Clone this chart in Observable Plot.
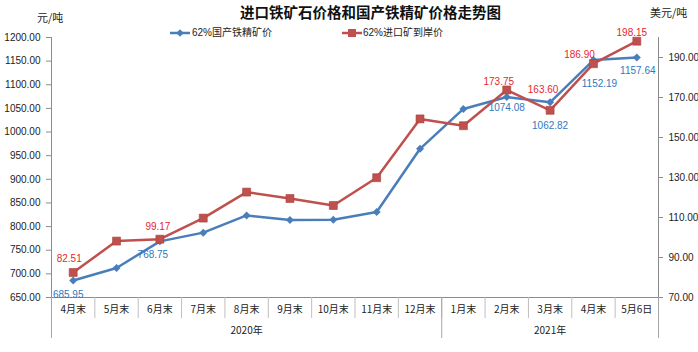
<!DOCTYPE html>
<html><head><meta charset="utf-8">
<script src="https://cdn.jsdelivr.net/npm/d3@7"></script>
<script src="https://cdn.jsdelivr.net/npm/@observablehq/plot@0.6"></script>
<style>
body{margin:0;background:#fff;}
#wrap{position:relative;width:698px;height:352px;font-family:"Liberation Sans","Noto Sans CJK SC",sans-serif;color:#222;}
#chart{position:absolute;left:0;top:0;}
.abs{position:absolute;white-space:nowrap;line-height:1;}
#title{left:240px;top:5px;font-size:14.5px;font-weight:bold;font-family:"Noto Sans CJK SC",sans-serif;color:#111;}
.unit{font-size:11px;font-family:"Noto Sans CJK SC",sans-serif;color:#222;}
.leg{font-size:10px;font-family:"Liberation Sans","Noto Sans CJK SC",sans-serif;color:#222;}
</style></head><body>
<div id="wrap">
  <div id="chart"></div>
  <div class="abs" id="title">进口铁矿石价格和国产铁精矿价格走势图</div>
  <div class="abs unit" id="unitL" style="left:37px;top:12px;">元/吨</div>
  <div class="abs unit" id="unitR" style="left:650px;top:7px;">美元/吨</div>
  <svg class="abs" style="left:168px;top:27px;" width="24" height="12">
    <line x1="2" y1="6" x2="22" y2="6" stroke="#4A7EBB" stroke-width="2.5"/>
    <path d="M12,2.2L15.8,6L12,9.8L8.2,6Z" fill="#4A7EBB"/>
  </svg>
  <div class="abs leg" id="legA" style="left:192px;top:28px;"></div>
  <svg class="abs" style="left:340px;top:27px;" width="24" height="12">
    <line x1="2" y1="6" x2="22" y2="6" stroke="#C0504D" stroke-width="2.5"/>
    <rect x="8" y="2" width="8" height="8" fill="#C0504D"/>
  </svg>
  <div class="abs leg" id="legB" style="left:363px;top:28px;"></div>
</div>
<script>
// ---- data ----
const months = ["4月末","5月末","6月末","7月末","8月末","9月末","10月末","11月末","12月末","1月末","2月末","3月末","4月末","5月6日"];
const years = ["2020年","2021年"];
const yearSpans = [9, 5];
const seriesNames = ["62%国产铁精矿价","62%进口矿到岸价"];
const domestic = [685.95, 712.5, 768.75, 787.2, 823.7, 813.8, 814.6, 830.7, 964.5, 1048.9, 1074.08, 1062.82, 1152.19, 1157.64];
const imported = [82.51, 98.2, 99.17, 109.7, 122.7, 119.5, 116.0, 129.9, 159.3, 155.9, 173.75, 163.60, 186.90, 198.15];
const labeled = [0, 2, 10, 11, 12, 13];
const leftTicks = [650,700,750,800,850,900,950,1000,1050,1100,1150,1200];
const rightTicks = [70,90,110,130,150,170,190];
const leftDomain = [650, 1200];
const rightDomain = [70, 200];

// ---- label nudges (style) ----
const domNudge = {0:[-5,14], 2:[-7,13], 10:[0,11], 11:[0,23], 12:[6,24], 13:[1,13]};
const impNudge = {0:[-4,-14], 2:[-2,-12], 10:[-8,-8], 11:[-7,-21], 12:[-14,-9], 13:[-5,-8]};

document.getElementById("legA").textContent = seriesNames[0];
document.getElementById("legB").textContent = seriesNames[1];

const blue = "#4A7EBB", red = "#C0504D";
const blueText = "#2F78C0", redText = "#E8262E";
const axisGray = "#8C8C8C";

const rightToLeft = d3.scaleLinear(rightDomain, leftDomain);
const rows = months.map((m, i) => ({i, x: i + 0.5, m, dom: domestic[i], imp: imported[i], impL: rightToLeft(imported[i])}));

const bounds = d3.range(months.length + 1);
const yearBounds = [0, ...d3.cumsum(yearSpans)];
const yearCenters = years.map((y, k) => (yearBounds[k] + yearBounds[k + 1]) / 2);

const labelMarks = [];
for (const i of labeled) {
  const [dx1, dy1] = domNudge[i];
  labelMarks.push(Plot.text([rows[i]], {x: "x", y: "dom", text: d => d.dom.toFixed(2), dx: dx1, dy: dy1, fill: blueText, fontSize: 10}));
  const [dx2, dy2] = impNudge[i];
  labelMarks.push(Plot.text([rows[i]], {x: "x", y: "impL", text: d => d.imp.toFixed(2), dx: dx2, dy: dy2, fill: redText, fontSize: 10}));
}

const chart = Plot.plot({
  width: 698, height: 352,
  marginTop: 37, marginBottom: 55, marginLeft: 51, marginRight: 40,
  x: {domain: [0, months.length], axis: null},
  y: {domain: leftDomain, axis: null},
  style: {fontFamily: '"Liberation Sans","Noto Sans CJK SC",sans-serif', fontSize: "10px", background: "transparent", color: "#222"},
  marks: [
    Plot.ruleY([leftDomain[0]], {stroke: axisGray}),
    Plot.ruleX([0, months.length], {y1: leftDomain[0], y2: leftDomain[1], stroke: axisGray}),
    Plot.axisY(leftTicks, {anchor: "left", tickSize: 5, tickPadding: 6, tickFormat: d => d.toFixed(2), label: null, stroke: axisGray, fill: "#222"}),
    Plot.axisY(rightTicks.map(rightToLeft), {anchor: "right", tickSize: 4, tickPadding: 6, tickFormat: d => rightToLeft.invert(d).toFixed(2), label: null, stroke: axisGray, fill: "#222"}),
    Plot.axisX(bounds, {anchor: "bottom", tickSize: 21, tickFormat: () => "", label: null, stroke: "#BFBFBF"}),
    Plot.axisX(yearBounds, {anchor: "bottom", tickSize: 41, tickFormat: () => "", label: null, stroke: "#A6A6A6"}),
    Plot.axisX(rows.map(r => r.x), {anchor: "bottom", tickSize: 0, tickPadding: 8, tickFormat: d => months[Math.floor(d)], label: null, fill: "#222", fontFamily: '"Noto Sans CJK SC",sans-serif', fontSize: 10}),
    Plot.axisX(yearCenters, {anchor: "bottom", tickSize: 0, tickPadding: 29, tickFormat: d => years[yearCenters.indexOf(d)], label: null, fill: "#222", fontFamily: '"Noto Sans CJK SC",sans-serif', fontSize: 10}),
    Plot.line(rows, {x: "x", y: "dom", stroke: blue, strokeWidth: 2.5}),
    Plot.line(rows, {x: "x", y: "impL", stroke: red, strokeWidth: 2.5}),
    Plot.dot(rows, {x: "x", y: "dom", symbol: "diamond2", r: 3.6, fill: blue}),
    Plot.dot(rows, {x: "x", y: "impL", symbol: "square", r: 4.5, fill: red, stroke: "#A8403D", strokeWidth: 0.6}),
    ...labelMarks
  ]
});
document.getElementById("chart").appendChild(chart);
</script>
</body></html>
